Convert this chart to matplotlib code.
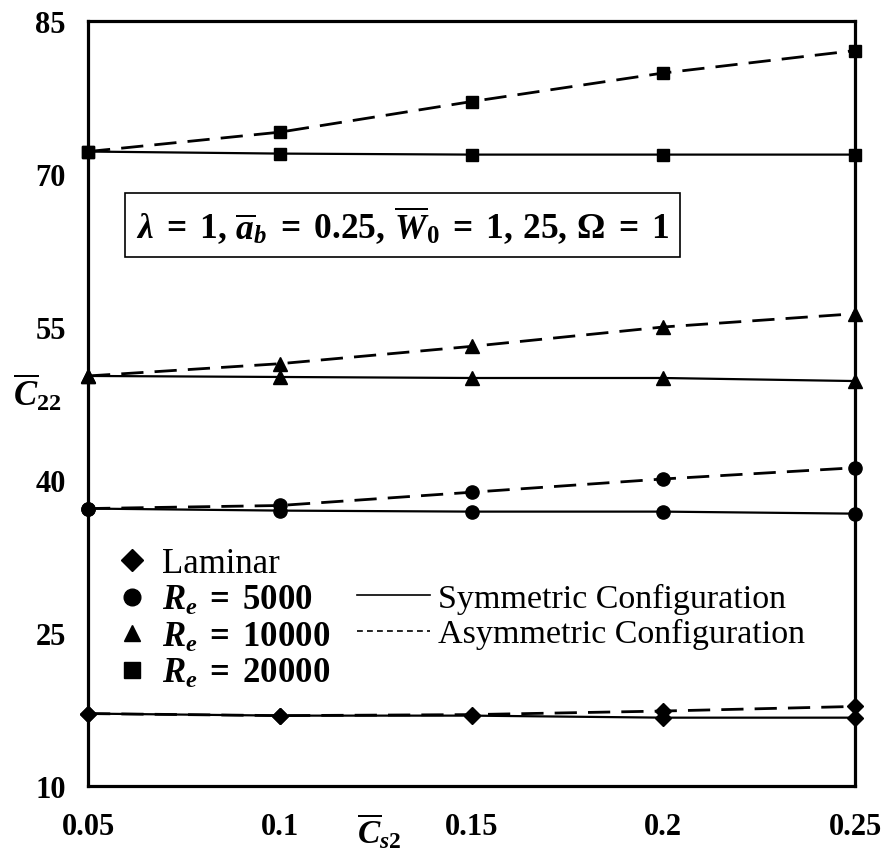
import matplotlib
matplotlib.use("Agg")
import matplotlib.pyplot as plt
from matplotlib.lines import Line2D

plt.rcParams['mathtext.fontset'] = 'custom'
plt.rcParams['mathtext.rm'] = 'Liberation Serif:bold'
plt.rcParams['mathtext.it'] = 'Liberation Serif:bold:italic'
plt.rcParams['mathtext.bf'] = 'Liberation Serif:bold'
plt.rcParams['font.family'] = ['Liberation Serif', 'DejaVu Serif']

cs2 = [0.05, 0.1, 0.15, 0.2, 0.25]

laminar_sym = [17.1, 16.9, 16.9, 16.7, 16.7]
laminar_asym = [17.1, 16.9, 17.0, 17.35, 17.8]
re5000_sym = [37.2, 37.0, 36.9, 36.9, 36.7]
re5000_asym = [37.2, 37.5, 38.8, 40.1, 41.2]
re10000_sym = [50.2, 50.1, 50.0, 50.0, 49.7]
re10000_asym = [50.2, 51.4, 53.1, 55.0, 56.3]
re20000_sym = [72.2, 72.0, 71.9, 71.9, 71.9]
re20000_asym = [72.2, 74.1, 77.1, 79.9, 82.1]

x_ticks = [0.05, 0.1, 0.15, 0.2, 0.25]
x_tick_labels = ['0.05', '0.1', '0.15', '0.2', '0.25']
y_ticks = [10, 25, 40, 55, 70, 85]

fig = plt.figure(figsize=(8.82, 8.62), dpi=100)
ax = fig.add_axes([0.0998, 0.087, 0.8696, 0.8875])

series = [
    (laminar_sym, laminar_asym, 'D', 8),
    (re5000_sym, re5000_asym, 'o', 9.5),
    (re10000_sym, re10000_asym, '^', 9.5),
    (re20000_sym, re20000_asym, 's', 8.5),
]
for sym, asym, m, ms in series:
    ax.plot(cs2, sym, color='k', lw=1.6, marker=m, markersize=ms, clip_on=False, zorder=3)
    ax.plot(cs2, asym, color='k', lw=2.0, ls=(0, (8, 4)), marker=m, markersize=ms,
            clip_on=False, zorder=3)

ax.set_xlim(0.05, 0.25)
ax.set_ylim(10, 85)
ax.set_xticks(x_ticks)
ax.set_xticklabels(x_tick_labels)
ax.set_yticks(y_ticks)
ax.tick_params(length=0, labelsize=22)
ax.tick_params(axis='x', pad=19)
ax.tick_params(axis='y', pad=16)
for lab in ax.get_xticklabels() + ax.get_yticklabels():
    lab.set_fontweight('bold')
for sp in ax.spines.values():
    sp.set_linewidth(2.3)

ax.text(0.379, -0.058, r'$\overline{C}_{s2}$', transform=ax.transAxes, fontsize=24,
        ha='center', va='center')
ax.text(-0.066, 0.515, r'$\overline{C}_{22}$', transform=ax.transAxes, fontsize=25,
        ha='center', va='center')

ax.text(0.062, 0.733,
        r'$\lambda\;=\;1,\,\overline{a}_b\;=\;0.25,\,\overline{W}_0\;=\;1,\,25,\,\Omega\;=\;1$',
        transform=ax.transAxes, fontsize=25.5, ha='left', va='center',
        bbox=dict(boxstyle='square,pad=0.3', fc='white', ec='k', lw=1.2))

h1 = [
    Line2D([], [], color='k', marker='D', ls='None', markersize=11),
    Line2D([], [], color='k', marker='o', ls='None', markersize=12),
    Line2D([], [], color='k', marker='^', ls='None', markersize=11),
    Line2D([], [], color='k', marker='s', ls='None', markersize=11),
]
l1 = ['Laminar', r'$R_e\;=\;5000$', r'$R_e\;=\;10000$', r'$R_e\;=\;20000$']
leg1 = ax.legend(h1, l1, loc='upper left', bbox_to_anchor=(0.039, 0.312), frameon=False,
                 fontsize=25, handlelength=0.8, handletextpad=0.46, labelspacing=0.1,
                 borderpad=0, borderaxespad=0)
ax.add_artist(leg1)

h2 = [
    Line2D([], [], color='k', lw=1.2),
    Line2D([], [], color='k', lw=1.2, ls=(0, (3.5, 2.5))),
]
l2 = ['Symmetric Configuration', 'Asymmetric Configuration']
ax.legend(h2, l2, loc='upper left', bbox_to_anchor=(0.351, 0.265), frameon=False,
          fontsize=24.5, handlelength=2.15, handletextpad=0.23, labelspacing=0.12,
          borderpad=0, borderaxespad=0)

fig.savefig('out.png', dpi=100)
